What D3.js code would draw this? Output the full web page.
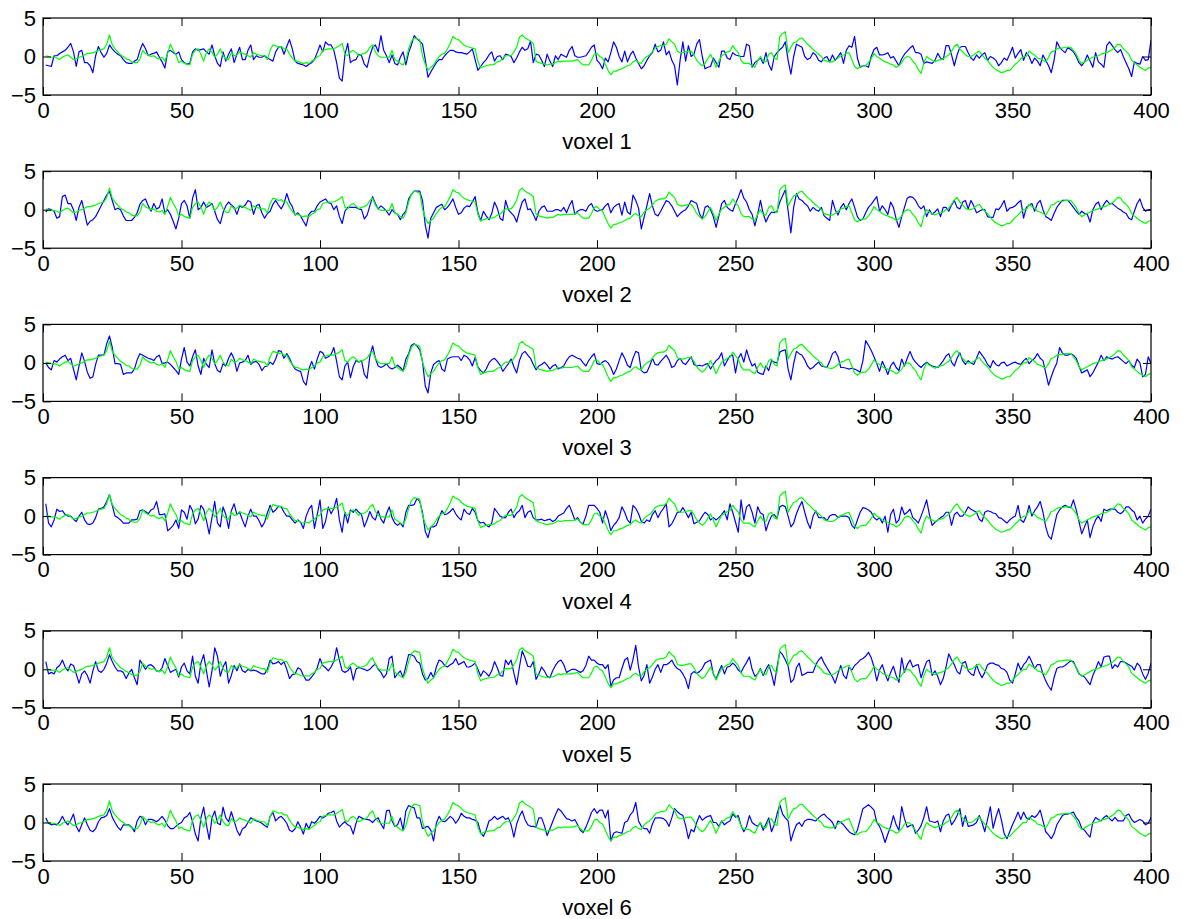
<!DOCTYPE html>
<html>
<head>
<meta charset="utf-8">
<script src="https://cdn.jsdelivr.net/npm/d3@7"></script>
<style>
  html, body { margin: 0; padding: 0; background: #fff; }
  svg { display: block; }
  text { font-family: "Liberation Sans", Arial, Helvetica, sans-serif; }
</style>
</head>
<body>
<svg id="chart" width="1182" height="919"></svg>
<script>
// Time axis and tick labels
const xTicks = [0, 50, 100, 150, 200, 250, 300, 350, 400];
const yTicks = [-5, 0, 5];
const panelLabels = ["voxel 1", "voxel 2", "voxel 3", "voxel 4", "voxel 5", "voxel 6"];

// Shared reference time course (green), samples 1..400
const reference = [
  0.1, 0.0, -0.1, -0.1, -0.2, -0.4, -0.1, 0.1, 0.2, -0.1, -0.4, -0.3, -0.1, 0.0, 0.2, 0.4, 0.4, 0.5, 0.6, 0.8,
  0.9, 1.0, 1.6, 2.8, 1.5, 1.0, 0.6, 0.2, 0.0, -0.3, -0.4, -0.7, -0.8, -0.8, -0.3, 0.8, 0.4, 0.2, 0.0, 0.1,
  -0.2, -0.3, -0.1, -0.6, 0.4, 1.6, 0.8, 0.2, -0.8, -0.6, -0.9, -1.0, -1.1, 0.3, 0.8, 1.0, 0.3, -0.6, 0.5, 1.0,
  0.6, -0.1, 0.3, 1.0, 0.1, -0.3, -0.4, 0.5, 0.1, 0.2, 0.6, 0.4, 0.3, 0.1, -0.1, 0.5, 0.3, 0.2, 0.1, 0.1,
  -0.4, 0.8, 1.5, 1.4, 1.2, 1.3, 1.0, 1.0, 0.3, -0.2, -0.6, -0.6, -0.8, -0.9, -0.8, -0.9, -0.6, -0.4, 0.0, 0.1,
  0.8, 0.9, 1.0, 1.0, 1.0, 1.2, 1.4, 1.7, 0.3, 0.1, 0.6, 0.8, 0.5, 0.1, 0.3, 0.4, 0.6, 1.2, 1.5, 0.6,
  0.1, -0.1, -0.1, -0.1, -0.1, 0.8, -0.4, -0.6, -0.9, -1.1, -0.4, 1.0, 2.0, 2.4, 2.3, 2.2, 0.1, -1.0, -1.8, -1.4,
  -1.1, -0.5, 0.0, 0.3, 0.4, 1.0, 1.7, 2.6, 2.3, 2.2, 1.8, 1.5, 1.3, 1.2, 1.1, 1.0, -0.6, -1.5, -1.3, -1.2,
  -1.1, -1.1, -1.0, -0.7, -0.6, -0.2, 0.1, 0.1, 0.1, 0.6, 1.2, 2.5, 2.8, 2.4, 2.2, 2.0, 1.7, -0.6, -0.8, -0.9,
  -1.0, -1.1, -1.0, -1.0, -0.8, -0.6, -0.7, -0.6, -0.6, -0.6, -0.6, -0.5, -0.4, -0.8, -1.1, -1.1, -1.1, -0.5, 0.3, 0.4,
  0.0, -0.2, -1.0, -1.8, -2.4, -1.9, -1.9, -1.7, -1.6, -1.4, -1.2, -1.1, -0.7, -0.5, -0.8, -0.9, -0.3, 0.0, 0.2, 0.6,
  1.1, 1.3, 1.4, 1.4, 1.6, 2.3, 1.9, 1.6, 0.7, 0.5, 0.5, 0.6, 0.7, 0.7, 0.2, -0.5, -0.9, -1.2, -0.9, -0.3,
  0.3, -0.5, -1.4, -0.6, 0.1, 0.3, 0.6, 0.7, 1.4, 0.9, 0.5, -0.5, -0.9, -0.9, -0.9, -1.2, -1.4, -0.6, 0.0, -0.6,
  -0.7, 0.3, 0.5, -0.2, -0.4, 2.6, 3.0, 3.2, 0.5, 1.2, 1.8, 1.9, 2.3, 2.4, 2.0, 1.6, 1.3, 0.9, 0.6, 0.3,
  0.0, -0.5, -0.6, -0.7, -0.7, -0.5, -0.2, 0.1, 0.2, 0.4, 0.5, -0.4, -1.3, -1.6, -1.3, -1.2, -1.2, -0.8, -0.3, 0.4,
  0.0, -0.2, -0.5, -0.7, -0.8, -1.0, -1.1, -1.4, -1.2, -0.8, -0.2, 0.0, -0.1, -0.6, -1.0, -1.7, -2.2, -0.8, 0.0, -0.3,
  -0.5, -0.7, -0.5, -0.4, -0.3, 0.0, 0.2, 0.7, 1.3, 1.6, 1.0, 0.6, 0.2, 0.0, 0.0, 0.2, 0.5, 0.7, 0.2, -0.2,
  -0.5, -1.0, -1.4, -1.7, -1.9, -2.1, -2.0, -1.8, -1.8, -1.4, -1.0, -0.7, -0.3, 0.0, 0.0, 0.7, 0.4, 0.2, -0.2, -0.3,
  -0.5, -0.7, -0.1, 0.6, 0.7, 1.0, 1.1, 1.1, 1.2, 1.2, 1.2, 0.8, 0.3, -0.5, -0.9, -0.7, -0.5, -0.3, -0.1, 0.0,
  0.1, 0.3, 0.4, 0.5, 0.7, 0.9, 1.2, 1.6, 1.5, 1.0, 0.7, 0.3, -0.5, -0.8, -1.1, -1.4, -1.6, -1.8, -1.5, -1.4
];

// Measured voxel time courses (blue), samples 1..400
const voxel1 = [
  -1.1, -1.2, -1.3, 0.1, 0.1, 0.4, 0.6, 0.8, 1.2, 1.7, 0.6, -1.3, 0.6, 0.8, -0.8, -0.8, -1.2, -2.1, 0.1, 1.3,
  0.5, -0.1, 0.4, 1.5, 1.0, 0.6, 0.3, 0.1, -0.4, -0.8, -0.9, -0.9, -0.6, -0.4, 0.8, 1.7, 1.0, 0.1, 0.3, 0.4,
  0.6, -0.1, -0.7, -1.5, 0.6, 0.8, 0.5, 0.3, 0.6, -0.4, -0.8, -1.0, -0.9, 0.6, 1.0, 0.8, 0.9, 1.0, 0.6, 0.3,
  1.5, 0.1, -0.9, -1.3, 0.6, -0.6, 0.3, 1.0, -0.8, 0.3, 1.2, -0.4, -0.4, 0.8, 1.5, -0.4, 0.1, -0.1, -0.1, 0.1,
  -0.2, -0.4, -0.6, 0.6, 1.2, 1.3, 0.3, 1.3, 2.2, 1.0, -0.6, -0.9, -1.0, -1.1, -1.3, -1.0, -0.8, -0.4, 0.5, 1.5,
  0.6, 1.9, 1.5, 1.5, 0.8, -0.8, -2.8, -3.2, 0.2, 1.7, -0.8, -0.5, -0.4, 0.3, 0.1, -1.0, -1.4, 0.1, 1.2, 1.5,
  0.6, 2.7, 0.8, 0.1, -0.8, 0.2, -0.9, -1.1, -0.1, 0.6, -1.1, 0.5, 1.5, 2.7, 2.3, 2.0, 1.6, -0.4, -2.7, -2.0,
  -1.4, -0.8, -0.4, -0.4, 0.1, 0.5, 0.8, 0.8, 0.6, 0.5, 0.5, 0.4, 0.3, 0.6, 1.0, -0.4, -1.8, -1.3, -0.8, -0.4,
  0.2, 0.6, -0.6, 0.0, 0.1, -0.4, 0.3, 0.2, 0.0, -0.8, -0.2, 0.6, 1.2, 0.8, 1.0, 2.0, -0.8, 0.3, 0.2, -0.5,
  -1.3, 0.3, -0.6, -1.3, 0.1, -0.4, 0.3, 0.1, -0.1, 0.8, 1.3, 0.1, -0.1, -0.1, 0.0, 0.1, 0.6, 1.2, 1.5, -0.5,
  -0.9, -1.6, -0.2, -0.7, 0.5, 1.9, 1.2, 0.0, -0.7, 0.7, -0.7, 0.2, 0.7, -0.2, -0.9, -1.6, -1.2, -0.5, 0.1, 0.5,
  1.6, 0.6, 0.8, 1.9, 0.2, 0.7, -0.5, -1.2, -3.7, -0.5, 1.9, -0.6, 1.4, 0.0, 0.3, 1.6, 2.2, 0.0, -1.6, -1.4,
  -1.3, -0.2, -0.8, -1.4, 0.7, 0.7, -0.2, -0.4, 0.5, 0.2, 0.1, 0.0, 0.0, 1.6, 1.4, -1.4, -0.8, -0.5, -0.2, -0.9,
  0.5, -1.0, -1.8, 0.0, 0.5, 0.9, 1.2, 1.9, -0.5, -2.3, 0.0, 1.6, 1.4, 1.2, 0.0, -0.4, -0.2, 0.5, 0.2, -0.5,
  -0.7, -0.2, 0.0, -0.7, 0.2, -0.5, 0.0, 0.5, -0.9, 0.8, 1.4, 1.2, 2.6, -0.2, -1.4, -1.2, -1.2, -1.4, 0.0, 0.9,
  1.2, 0.2, 0.2, 0.3, 0.5, -0.2, 0.0, -0.6, -1.2, -0.3, 0.3, 0.7, 1.1, 1.4, 0.5, 0.5, 0.3, -0.9, -0.7, -0.8,
  -0.9, -0.5, 0.4, -0.2, -0.4, 1.4, 1.4, 0.2, -1.2, 0.2, 1.2, 1.3, 1.3, 0.5, -0.2, -0.5, 0.2, -0.2, 0.2, 0.5,
  -0.5, 0.0, -0.2, -0.5, -1.2, -0.8, -0.2, -0.5, 0.3, 1.2, -0.2, 0.4, 0.9, -0.5, 0.5, 0.0, -0.9, -0.2, -0.6, -1.2,
  0.2, -0.5, -1.2, -2.1, -0.5, 1.9, 1.2, 0.8, 0.5, 1.2, 0.9, 0.6, 0.0, -0.8, -1.2, -0.7, 0.2, -0.6, -1.4, 0.5,
  -0.7, -1.0, -1.4, 1.4, 1.9, 1.4, 0.9, 0.5, 0.9, 0.0, -0.8, -1.6, -2.6, -0.7, -0.9, -1.0, 0.0, -0.5, -0.4, 2.1
];

const voxel2 = [
  -0.3, 0.1, 0.0, -0.2, -1.1, -0.9, 1.7, 1.9, 0.8, 0.8, 0.0, -1.4, 0.3, 1.2, -0.4, -2.0, -1.5, -1.3, -0.9, -0.2,
  0.5, 1.2, 1.9, 2.4, 1.2, 0.0, 0.2, 0.0, -0.8, -1.4, -1.4, -1.4, -1.0, -0.4, 0.7, 1.2, 1.4, 0.5, -0.2, 0.8,
  0.1, 0.3, 1.4, -0.4, 0.0, -0.6, -1.5, -2.5, -1.1, 0.8, 1.2, 0.5, -1.1, 1.5, 2.6, 0.0, 0.3, 1.0, 0.3, 0.5,
  0.8, -0.2, -1.3, -1.8, -0.4, 0.5, 1.0, 0.6, 0.3, -0.6, 0.5, 0.3, 0.6, 1.2, 1.0, -0.6, 0.5, 0.7, -0.4, -1.1,
  -0.5, -0.2, 0.7, 1.2, 0.6, 0.1, 0.8, 2.1, 1.0, 0.4, -0.7, -0.4, -0.8, -1.5, -2.1, -0.6, -0.2, -0.2, 0.5, 1.0,
  1.2, 1.4, 0.9, 0.8, 0.0, 0.5, -0.9, -1.8, -0.2, 0.3, 0.3, 0.3, 0.3, 0.1, 0.0, -1.2, -0.7, 0.5, 1.7, 0.8,
  0.1, 0.5, 0.2, -0.2, -0.7, 0.0, -0.4, -0.6, -1.3, -0.6, -0.2, 1.4, 2.0, 2.4, 2.4, 2.4, 1.2, -2.0, -3.7, -1.1,
  -0.4, 0.3, 0.5, 0.7, 0.0, 0.3, 0.8, 1.4, 0.3, -0.6, -0.4, 0.2, 0.5, 0.4, 1.0, 1.7, -0.4, -1.4, -0.2, -0.8,
  -1.3, -0.5, 1.0, 0.2, -1.1, -1.4, 1.2, 0.0, -0.4, -0.8, -1.6, -0.2, 1.0, 1.4, 0.0, 0.1, -0.6, -1.4, -0.2, 0.3,
  0.5, -0.2, -0.2, -0.2, 0.0, 0.0, -0.2, 0.3, -0.4, 0.5, 1.2, -0.6, -0.2, 0.0, 0.0, -0.2, 0.5, 0.8, 0.0, -0.2,
  -0.1, 0.0, 0.5, 0.8, -0.4, 0.3, 0.6, 0.8, -0.7, 1.0, -0.3, -0.6, 1.9, 1.2, 0.2, -2.5, -1.0, 0.5, 2.1, 0.5,
  -0.6, -0.8, -0.2, 0.5, 1.2, 1.0, 0.5, -0.2, -0.9, -0.5, -0.2, 0.0, 0.5, 1.2, 1.0, 0.8, -0.5, -1.2, 0.3, 0.5,
  0.0, -0.9, -2.3, -0.8, 0.8, 1.2, 0.3, 0.0, -0.2, 0.8, 1.6, 2.6, 1.5, 1.0, 0.0, -0.6, -2.1, -0.6, 1.2, -0.5,
  -1.6, -0.8, -0.3, -0.4, -0.2, 1.0, 1.8, 2.6, -0.2, -3.0, 0.3, 2.1, 1.4, 1.2, 0.8, 0.5, -0.2, 0.3, 0.0, -0.2,
  0.3, -0.8, -1.1, -1.4, 1.2, 0.0, -0.7, 0.3, 0.8, 0.0, 0.8, 1.4, 0.3, -0.9, -1.4, -1.2, -0.4, 0.3, 0.7, 1.2,
  1.7, -0.2, 0.5, 0.0, -0.6, 1.0, 0.3, -1.2, -2.3, -0.9, 0.3, 1.5, 1.7, 1.6, 1.2, 0.5, 0.1, 0.5, -0.9, 0.0,
  -0.6, -0.3, 0.1, -0.9, 0.3, 0.3, -0.2, 0.6, 1.2, 0.3, 0.1, 1.0, 1.2, 0.1, 1.2, 0.5, -0.4, -0.2, 0.0, 0.0,
  -0.9, -1.0, -1.0, 0.1, 0.0, 0.5, 1.2, -0.2, 0.2, 0.3, 0.5, 0.9, 1.2, -1.1, 0.3, 0.6, 0.8, -0.2, 0.8, 1.2,
  0.0, -0.9, -1.1, -1.4, -0.5, 0.3, 0.8, 1.2, 1.2, 1.2, 0.8, 0.3, -0.2, -0.6, -0.2, -0.5, -0.6, -1.6, 0.0, 0.7,
  1.0, 0.0, 0.7, 1.2, 0.8, 0.8, 0.5, 0.2, 0.0, -0.3, -0.5, -1.1, -1.3, -0.2, 0.8, 1.4, 0.3, -0.2, 0.0, 0.0
];

const voxel3 = [
  0.0, -0.6, -0.9, 0.3, 0.1, 0.5, 0.8, 1.0, 0.3, 0.6, -0.8, -2.2, -0.4, 1.3, 0.2, -1.2, -2.0, -1.8, -0.2, 1.0,
  1.0, 1.0, 2.5, 3.5, 2.0, -0.1, -0.1, -0.2, -1.5, -1.3, -1.3, -1.3, -0.8, 0.4, 1.2, 1.0, 0.8, 0.6, 0.5, 0.3,
  0.8, 1.0, -0.1, 0.0, 0.1, -0.2, -0.6, -1.0, -1.5, 0.5, 2.0, 0.1, -0.4, 0.8, 1.7, -0.4, -1.5, 0.6, -0.2, -0.6,
  1.7, -0.1, -1.0, -1.2, -0.1, -0.4, 0.6, 1.3, 0.5, -1.1, 0.0, 0.1, 0.3, 1.0, -0.2, 0.1, 0.2, -0.2, -1.0, -0.5,
  -0.4, 0.1, -0.2, 0.5, 1.6, 1.5, 0.6, 1.2, 0.6, -0.2, -0.8, -1.0, -1.1, -2.4, -2.9, -0.8, 0.2, -0.8, 0.5, 1.5,
  1.3, 0.6, 0.8, 1.1, 2.0, 0.2, -1.8, -2.2, -0.4, 0.1, -1.9, -0.5, 0.3, 0.1, 0.3, -1.5, -2.0, 0.9, 2.2, 0.6,
  -0.4, -0.6, -0.4, -0.1, -0.6, -0.8, -0.6, -0.3, -0.6, -1.0, 0.5, 1.2, 2.3, 2.5, 2.2, 1.7, 0.2, -3.0, -3.9, -1.3,
  -0.2, 0.1, 0.3, -0.8, -1.1, 0.5, 0.7, 0.8, 0.8, 0.8, 0.3, 1.0, 0.8, 0.4, -0.4, 0.7, -0.5, -1.0, -1.3, -0.8,
  0.0, 0.4, 0.6, 0.2, -0.3, -1.1, -0.6, -0.1, 0.5, -0.5, -1.3, 0.3, 1.2, 1.5, 1.0, 0.6, -0.2, -0.9, -0.4, -0.2,
  0.1, -0.3, -0.8, -0.4, -0.2, -0.8, -0.6, -0.4, 0.3, 0.8, 1.0, 0.8, 0.6, 0.5, 0.0, -0.4, 0.3, 0.8, 1.2, -0.1,
  -0.2, 0.1, 0.3, 0.0, -0.6, -1.5, -0.8, 0.3, 1.3, 0.6, -0.3, -0.6, 0.6, 1.5, 1.3, -1.0, -1.3, -1.2, -0.4, 0.6,
  -0.2, -0.3, 0.2, 0.6, 1.0, 0.4, -0.6, -0.4, 0.3, 0.6, 0.0, -0.2, 0.3, 0.8, -0.2, -0.4, -0.3, -0.4, -0.2, -0.1,
  -0.8, -0.2, 0.3, 0.6, 1.3, -0.4, 0.3, 0.9, 1.0, -1.3, 0.6, 1.2, 0.1, 1.7, 0.5, -0.4, -0.1, -1.2, -1.4, -1.5,
  -0.4, -1.0, 0.3, 0.1, 0.0, 1.4, 1.6, 1.7, -0.8, -2.2, -0.1, 1.5, 1.2, 1.0, 0.4, -0.4, -0.8, -0.6, -0.2, 0.1,
  -0.4, -0.5, -0.6, 0.2, 1.2, 1.5, 0.8, -0.6, -0.6, -0.7, -0.8, -0.7, -0.8, -1.0, -1.2, 0.3, 2.9, 2.3, 1.6, 0.8,
  -0.1, -1.1, 0.2, -0.6, -1.5, -0.4, 0.1, -0.6, -1.0, 0.5, -0.4, 0.6, 1.5, 0.6, 0.1, -0.3, -0.6, -0.2, 0.1, -0.2,
  -0.4, -0.5, -0.6, -0.2, 0.3, 0.9, 1.2, 0.1, -0.4, 0.6, 1.3, 0.3, -0.2, 0.3, 0.0, -0.2, 0.6, 1.5, 1.0, 0.5,
  -0.2, -0.6, 0.3, -0.2, -0.4, 0.0, 0.1, -0.4, -0.2, 0.0, 0.1, -0.1, -0.2, 0.3, 0.6, -0.1, 0.3, 0.6, 1.2, 0.6,
  0.3, -1.3, -2.9, -1.8, -0.8, 0.0, 2.0, 1.3, 1.0, 1.0, 1.2, 1.0, 0.6, -0.4, -1.3, -1.1, -0.9, -1.8, -1.3, -0.6,
  0.1, 1.0, 0.3, 0.8, 0.6, 0.5, 0.7, 0.8, 0.5, 0.2, -0.1, 0.3, -0.3, -0.6, 0.5, 0.0, -1.8, -1.5, 0.8, -0.1
];

const voxel4 = [
  1.6, -0.9, -1.4, -0.5, 0.9, 0.6, 0.7, 0.2, 0.0, 0.0, -0.4, -0.7, 0.0, 0.5, -0.5, -1.0, -1.1, -0.9, -0.2, 0.9,
  1.0, 1.2, 1.9, 2.8, 1.4, 0.0, -0.2, -0.5, -0.9, -0.9, -0.9, -0.5, -0.5, -0.4, 0.7, 0.8, 0.6, 0.3, 0.8, 1.0,
  1.9, 0.2, 0.2, 0.3, -1.9, -1.6, -1.2, -0.5, -1.6, 0.8, 0.5, -0.4, 1.4, 0.7, -1.0, -0.4, 1.4, 0.9, -0.6, -2.3,
  -0.2, 1.9, -0.9, -1.4, 1.2, 0.2, -1.6, 0.7, 1.6, 0.2, 0.5, -0.5, -1.4, 0.0, 0.9, 0.0, 0.0, -0.6, -1.4, -0.8,
  0.4, 1.4, 0.5, 0.8, 1.3, 1.2, 0.5, 0.0, 0.0, -0.5, -0.9, -0.5, -0.8, -1.6, 0.0, 0.9, 1.4, -1.6, 0.2, 2.1,
  -1.6, -0.7, 1.2, 0.3, 1.0, 2.3, -0.5, -2.1, 0.5, -0.9, 0.8, 0.5, 0.9, 0.5, 0.2, -1.4, -0.5, 0.6, -0.2, -0.5,
  0.7, -0.4, -0.9, 0.3, 1.2, -0.2, -0.9, -1.2, -0.9, -1.4, 0.5, 1.4, 1.4, 1.5, 2.3, 1.9, 0.5, -2.0, -2.8, -1.4,
  -1.4, -1.2, -0.2, 0.7, 0.2, 0.3, 0.6, 1.0, 0.3, -0.2, -0.5, 0.9, 0.4, 0.2, 1.0, 0.5, -0.6, -0.9, -0.8, -1.2,
  -1.4, -0.9, 1.0, 0.5, 0.0, -0.2, -0.2, 0.5, 0.9, -0.2, 0.4, 0.7, 1.4, -0.2, 0.5, 0.7, -0.2, -0.5, -0.5, -0.4,
  -0.6, -0.5, -0.4, -0.7, -0.5, 0.0, 0.2, 0.4, 1.0, 1.4, 0.5, -0.5, -0.2, -0.8, -1.0, 0.0, 1.4, 1.4, 1.4, 1.0,
  0.5, -0.9, 0.7, -0.4, -1.9, -1.2, -0.8, -0.2, 1.2, 0.5, -0.5, -0.9, 1.4, 1.0, 0.3, -0.7, -0.9, -0.5, -0.7, 0.2,
  0.7, -0.2, 0.5, 1.0, 1.6, -1.4, -1.0, -0.3, 0.5, 0.5, 1.1, 0.5, -0.2, 0.5, -1.0, -0.8, -0.6, 0.0, 0.5, 0.2,
  -0.5, -0.2, -0.5, -0.2, 0.2, 0.7, -0.5, 1.6, 0.5, -0.8, -2.1, 2.1, -0.5, 1.2, 1.5, 0.5, -0.9, 1.2, 0.4, 0.2,
  -1.9, -0.8, 0.0, 0.2, -0.3, 1.2, 1.4, 1.2, 0.0, -1.4, -0.9, 0.3, 1.2, 1.9, 0.5, -0.8, -1.6, 0.0, 0.7, -0.2,
  -0.2, -0.2, -0.6, 0.0, 0.2, 0.2, -0.2, 0.0, 0.0, 0.0, -0.2, -1.2, -1.6, -0.5, 0.5, 1.1, 1.0, 0.8, 0.5, -0.2,
  -0.5, -0.2, -0.9, 0.0, -2.1, 0.2, 0.9, -0.9, -0.5, 1.2, 0.2, 0.5, 0.9, -0.2, -0.5, -0.9, 0.0, 1.0, 2.1, 0.2,
  -1.2, -0.8, -0.5, -0.2, 0.0, 0.5, 0.5, -1.2, 0.2, 0.5, 0.0, 0.0, 0.5, 1.2, 0.9, 0.7, 0.5, -0.4, -0.7, 0.5,
  0.7, 0.6, 0.4, 0.3, -0.2, -0.3, -0.6, -0.9, -0.5, -0.2, 0.0, 1.4, -0.5, -0.8, 0.0, 1.4, 0.0, 0.7, 1.2, 1.9,
  0.5, -1.4, -2.6, -3.0, -1.4, 0.2, 0.8, 1.2, 1.4, 1.2, 1.1, 2.1, 0.8, -0.7, -2.3, -1.4, -0.5, -2.8, -1.4, -0.5,
  0.0, -0.7, 0.9, 0.7, 0.9, 0.9, 0.9, 0.5, 0.3, 0.6, 1.2, 1.2, 0.8, 0.5, -0.5, 0.0, -0.9, -0.4, 0.0, 0.9
];

const voxel5 = [
  1.0, -0.6, -0.4, -0.6, 0.2, 0.5, 1.2, 0.3, -0.2, 0.7, 0.5, -0.6, -1.8, -0.6, -0.2, -0.8, -1.8, -0.2, 1.0, -0.2,
  -0.4, 0.0, 0.8, 1.9, 1.0, 0.3, -0.2, -0.2, -0.4, -1.2, -0.5, 0.0, -1.1, -2.0, 1.2, 0.6, 0.0, 0.5, 0.6, 0.3,
  -0.2, -0.3, 0.2, 1.4, 0.5, -0.4, -0.2, 0.0, -1.0, 0.3, 0.8, -0.2, -0.6, 1.7, -0.9, -1.8, 0.8, 1.9, -0.2, -2.3,
  -0.2, 2.8, 1.7, -0.9, 0.3, 1.0, -1.8, -0.8, 0.5, -0.2, 0.7, -0.2, -0.4, 0.0, -0.2, -0.1, -0.2, -0.4, -0.6, -0.6,
  0.0, 1.2, 0.7, 0.8, 1.0, 0.6, 1.0, 0.0, -1.2, -0.7, -0.6, 0.2, 0.0, -0.8, -1.4, -1.4, -1.0, -0.5, 0.2, 1.4,
  0.5, 0.2, -0.2, 0.3, 1.0, 2.8, 1.2, -0.2, -0.4, -0.2, 0.3, -1.4, 0.0, 0.3, 0.1, 0.0, -0.2, 0.0, 0.4, 0.7,
  0.0, -0.4, -1.1, -0.6, 1.4, 1.7, -1.1, -0.6, -0.2, -1.1, 0.4, 1.9, 1.9, 1.7, 1.0, 0.8, -0.6, -1.4, -1.2, -0.4,
  -1.1, 0.3, 1.2, 1.0, 0.5, 0.3, 0.6, 0.8, 1.4, 0.6, 0.8, 1.0, 0.3, 0.3, 0.5, 0.8, 0.0, -0.9, -0.2, -0.5,
  -0.9, -0.2, 1.0, 0.2, -0.8, -0.9, 1.2, 0.6, 1.2, -0.5, -2.0, 0.3, 2.4, 1.5, 0.4, 0.3, 1.0, -1.3, -0.6, 0.3,
  -0.2, -0.9, -1.1, -0.2, 0.5, 1.0, 1.2, 0.6, -0.4, -0.2, 0.0, 0.0, -0.2, -0.4, -0.2, 0.5, 1.7, 1.2, 1.2, 0.8,
  0.6, 0.6, 0.1, 0.6, -2.2, -1.4, -1.1, -1.1, 0.1, 1.2, 1.5, -0.1, 1.3, 3.1, 0.3, -1.5, -0.8, 0.6, -1.8, -1.0,
  0.0, 0.6, -0.4, 0.6, 0.6, 0.8, 1.2, 0.5, 0.1, -0.1, -0.6, -1.3, -2.5, -0.6, -0.3, -0.5, -0.3, 0.1, 0.8, 1.0,
  1.2, -0.6, -1.3, -0.3, 0.5, -0.6, 0.3, 0.4, 0.8, 0.5, -0.1, -0.4, 0.3, 0.9, 1.6, 0.0, -0.9, -0.6, 0.1, -0.8,
  0.0, 0.6, -0.6, -2.1, 0.3, 2.3, 1.9, 1.2, 0.4, -1.7, -1.3, 0.2, 0.8, -0.8, -0.6, -0.4, -0.4, -0.4, 0.6, 1.2,
  1.6, 0.8, 0.2, -0.4, -1.0, -1.8, -0.6, 0.5, -0.8, -1.2, 0.3, -0.1, 0.5, 0.8, 1.2, 1.4, 1.7, 2.2, 1.5, 0.3,
  -1.5, -0.1, 0.6, -0.6, -1.5, -0.4, 0.4, -0.8, -1.7, 1.5, -0.4, 0.6, 1.2, 0.3, 0.5, 0.6, -1.1, 0.0, 1.0, 1.2,
  -0.8, -0.2, -0.9, -2.0, -1.2, 0.3, 2.0, 1.2, 0.6, -0.3, -0.6, 0.8, 1.0, -0.2, -0.6, -0.8, 0.6, -0.4, -1.1, -0.4,
  0.6, 0.8, 0.8, 0.6, 0.5, 0.1, 0.0, -0.4, -1.4, -1.8, -0.6, 0.8, -0.1, 0.6, 1.0, 1.7, 0.9, 0.1, 0.6, 0.6,
  -0.6, -1.5, -2.2, -2.7, -1.1, 0.1, 0.3, 0.3, 0.5, 0.8, 1.1, 1.0, 0.2, -0.6, -0.8, -1.0, -1.5, -2.0, -0.8, 0.0,
  1.0, 0.3, 1.6, 1.7, 1.7, 0.1, 0.6, 0.3, 1.0, 1.0, 0.8, 0.6, 0.4, -0.1, 0.8, 0.4, -0.6, -1.3, -0.5, 0.8
];

const voxel6 = [
  0.6, -0.1, -0.3, -0.2, -0.3, 0.1, 0.8, 0.1, -0.3, 0.3, 1.1, -0.5, -1.2, -0.3, 0.6, -0.3, -1.0, -1.2, -0.8, 0.1,
  0.6, 0.7, 0.9, 1.8, 0.7, 0.0, -0.6, -1.0, -0.3, -0.3, -0.3, -0.6, -1.2, 0.2, 0.8, 0.6, -0.3, 0.4, 0.4, 0.3,
  0.1, 0.4, 0.8, 0.3, -0.4, -0.8, -0.8, -0.5, -0.2, 0.0, 0.6, 0.8, 1.3, 0.1, -1.5, -2.4, 0.6, 2.0, -0.3, -2.2,
  0.6, 1.5, -0.1, -0.3, 2.0, 0.6, 0.1, 1.4, 0.2, -1.0, -1.7, -0.8, -0.6, 0.0, 0.6, 0.4, 0.2, 0.1, -0.1, -0.4,
  -0.6, 0.8, 1.3, 0.2, 0.6, 0.8, 0.4, -0.1, -1.0, -1.2, -0.8, 0.1, -0.6, -1.5, -0.1, -0.8, 0.1, -0.1, 0.3, 0.8,
  0.6, 0.8, 1.2, 1.3, 1.5, 0.2, -0.6, -0.2, 0.1, -0.3, -0.5, -1.5, -0.1, 0.8, 0.6, 0.4, 0.4, 0.3, 0.0, 0.4,
  0.6, -0.2, -0.8, 1.5, 1.6, 0.2, -0.5, -0.3, 0.6, -1.0, 1.5, 2.2, 2.0, 1.9, 0.6, 0.6, -0.8, -0.6, -0.5, -1.0,
  -2.4, -0.1, 0.8, 0.2, 0.1, 0.4, 0.8, 0.5, -0.1, 0.4, 1.2, 0.8, 0.6, 0.6, 0.4, 0.3, 0.0, -1.3, -1.8, -1.0,
  0.2, 0.4, 0.8, 0.4, 0.6, 0.8, 0.4, 0.6, -0.3, -1.9, -0.2, 0.8, 1.5, 0.4, -0.3, -0.5, -0.5, -0.6, 0.6, 0.6,
  -0.4, -1.7, -0.8, 0.1, 1.0, 1.8, 1.5, 1.0, 0.5, 0.4, 0.2, 0.4, -0.3, -1.0, -1.3, -0.6, 0.3, 1.3, 1.8, 1.2,
  1.6, 1.6, 0.6, 1.6, -2.4, -1.4, -1.2, -1.3, -1.4, 0.0, 0.2, 1.0, 1.4, 2.6, 0.2, -0.5, -0.8, -0.8, -1.4, -0.2,
  0.6, 0.6, 0.6, 0.5, 0.2, -0.5, 0.6, 1.8, 1.4, 1.1, 0.9, -0.4, -2.1, -0.9, -1.2, 0.0, 0.9, 0.3, 0.6, 0.8,
  0.9, 0.0, 0.0, -0.5, 0.2, -0.3, 0.0, 0.2, 1.1, 0.7, 0.9, -0.4, -1.2, -0.5, 0.9, 0.0, -0.3, -0.5, 0.0, -1.0,
  -0.2, 0.6, -1.2, -0.3, 1.1, 2.3, 1.1, 0.6, 0.2, -2.4, -1.2, -0.3, 0.0, -0.5, 0.2, 0.4, 0.4, 0.3, 0.2, 0.6,
  0.9, 1.1, 0.7, 0.4, 0.0, -0.8, 0.2, 0.0, -0.3, -0.75, -1.2, -1.45, -1.6, -1.0, 0.4, 1.8, 2.05, 2.3, 2.0, 1.6,
  0.0, -0.5, -1.4, -2.6, -1.5, -0.5, 0.9, -0.3, -1.0, 2.05, 0.5, -0.6, -0.4, -0.3, -1.4, -1.0, -0.4, 0.65, 2.05, 0.2,
  0.1, 0.0, 0.2, -1.2, 0.2, 0.9, 1.1, -0.3, 0.2, 0.9, 1.8, -0.5, 0.9, -0.5, -0.4, -0.3, 0.0, 0.9, 0.0, -1.2,
  0.4, 2.05, -0.75, 0.65, 1.8, 0.3, -1.45, -2.1, -1.2, -0.3, 0.5, 1.35, 0.4, 1.35, 0.6, 0.4, 0.9, 0.65, 1.0, 1.6,
  0.2, -1.2, -1.6, -2.1, -1.45, -0.3, 0.3, 0.9, 1.1, 1.1, 1.2, 1.35, 0.65, 0.2, -0.75, -1.0, -1.5, -1.9, 0.0, 0.65,
  0.4, 0.2, 0.65, 0.9, 0.5, 0.2, 0.65, 0.2, 0.2, 0.2, 0.9, 1.1, 0.4, 0.0, 0.2, 0.4, 0.2, -0.3, -0.1, 0.65
];

const voxels = [voxel1, voxel2, voxel3, voxel4, voxel5, voxel6];

// ---- layout ----
const svg = d3.select("#chart");
const plotLeft = 43, plotRight = 1151;
const panelTop0 = 18, panelStep = 153.2, panelHeight = 77;
const fontSize = 22;

const x = d3.scaleLinear().domain([0, 400]).range([plotLeft, plotRight]);

voxels.forEach((series, k) => {
  const top = panelTop0 + k * panelStep;
  const bottom = top + panelHeight;
  const y = d3.scaleLinear().domain([-5, 5]).range([bottom, top]);

  const g = svg.append("g").attr("class", "panel");

  const clipId = "clip" + k;
  g.append("clipPath").attr("id", clipId)
    .append("rect")
    .attr("x", plotLeft).attr("y", top)
    .attr("width", plotRight - plotLeft).attr("height", panelHeight);

  const line = d3.line()
    .x((d, i) => x(i + 1))
    .y(d => y(d));

  const lines = g.append("g").attr("clip-path", `url(#${clipId})`);
  lines.append("path")
    .datum(series)
    .attr("fill", "none")
    .attr("stroke", "#0000ff")
    .attr("stroke-width", 1.2)
    .attr("stroke-linejoin", "round")
    .attr("d", line);
  lines.append("path")
    .datum(reference)
    .attr("fill", "none")
    .attr("stroke", "#00ff00")
    .attr("stroke-width", 1.2)
    .attr("stroke-linejoin", "round")
    .attr("d", line);

  // Axes: inward ticks on all four sides, labels only bottom and left
  const styleAxis = sel => {
    sel.select(".domain").remove();
    sel.selectAll(".tick line").attr("stroke", "#000").attr("stroke-width", 1);
    sel.selectAll(".tick text")
      .attr("fill", "#000")
      .style("font-size", fontSize + "px")
      .style("font-family", '"Liberation Sans", Arial, Helvetica, sans-serif');
  };

  g.append("g")
    .attr("transform", `translate(0,${bottom})`)
    .call(d3.axisBottom(x).tickValues(xTicks).tickSize(-8).tickPadding(7).tickFormat(d3.format("d")))
    .call(styleAxis);
  g.append("g")
    .attr("transform", `translate(0,${top})`)
    .call(d3.axisTop(x).tickValues(xTicks).tickSize(-8).tickFormat(""))
    .call(styleAxis);
  g.append("g")
    .attr("transform", `translate(${plotLeft},0)`)
    .call(d3.axisLeft(y).tickValues(yTicks).tickSize(-8).tickPadding(7).tickFormat(d3.format("d")))
    .call(styleAxis);
  g.append("g")
    .attr("transform", `translate(${plotRight},0)`)
    .call(d3.axisRight(y).tickValues(yTicks).tickSize(-8).tickFormat(""))
    .call(styleAxis);

  // Frame
  g.append("rect")
    .attr("x", plotLeft).attr("y", top)
    .attr("width", plotRight - plotLeft).attr("height", panelHeight)
    .attr("fill", "none")
    .attr("stroke", "#000")
    .attr("stroke-width", 1.2);

  // Panel caption
  g.append("text")
    .attr("x", (plotLeft + plotRight) / 2)
    .attr("y", bottom + 54)
    .attr("text-anchor", "middle")
    .style("font-size", fontSize + "px")
    .attr("fill", "#000")
    .text(panelLabels[k]);
});
</script>
</body>
</html>
